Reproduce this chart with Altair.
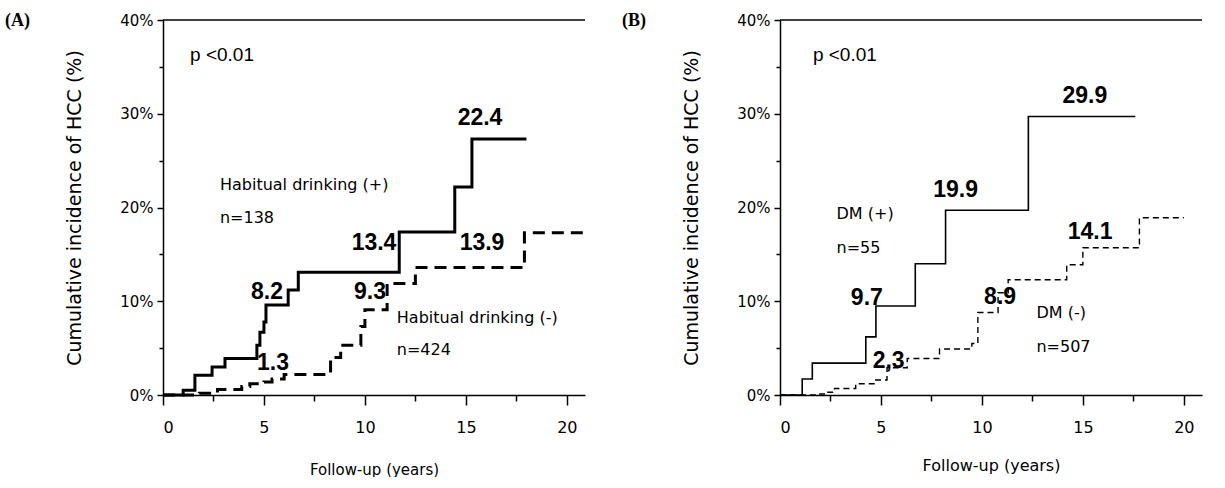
import altair as alt
import pandas as pd

# ---------------- data ----------------
# Panel A: Habitual drinking (+) solid, (-) dashed
a_pos_t = [0, 1.0, 1.58, 2.43, 3.07, 4.65, 4.8, 5.0, 5.1, 6.2, 6.7, 11.7, 14.45, 15.3, 18.0]
a_pos_v = [0, 0.5, 2.1, 3.0, 3.9, 5.3, 6.7, 7.8, 9.6, 11.2, 13.1, 17.4, 22.2, 27.3, 27.3]
a_neg_t = [0, 1.8, 2.7, 3.9, 4.3, 5.0, 5.4, 6.0, 8.3, 8.8, 9.8, 10.0, 11.1, 12.5, 17.9, 20.9]
a_neg_v = [0, 0.2, 0.6, 0.9, 1.2, 1.4, 1.7, 2.2, 4.0, 5.3, 7.3, 9.1, 11.9, 13.6, 17.3, 17.3]

# Panel B: DM (+) solid, DM (-) dashed
b_pos_t = [0, 1.1, 1.6, 4.25, 4.75, 6.7, 8.2, 12.3, 17.6]
b_pos_v = [0, 1.7, 3.4, 6.2, 9.5, 14.0, 19.7, 29.7, 29.7]
b_neg_t = [0, 1.8, 2.3, 2.7, 3.75, 4.7, 5.3, 6.3, 7.9, 9.5, 9.8, 10.8, 11.3, 14.2, 15.0, 17.8, 20.0]
b_neg_v = [0, 0.1, 0.3, 0.7, 1.2, 1.6, 2.9, 3.9, 4.9, 5.5, 8.8, 10.9, 12.3, 13.9, 15.7, 18.9, 18.9]

# annotations (text, x in years, y in %)
a_num_text = ["22.4", "13.4", "13.9", "8.2", "9.3", "1.3"]
a_num_x = [15.7, 10.45, 15.8, 5.15, 10.25, 5.45]
a_num_y = [29.6, 16.2, 16.2, 11.0, 11.0, 3.4]
a_lab_text = ["Habitual drinking (+)", "n=138", "Habitual drinking (-)", "n=424"]
a_lab_x = [2.82, 2.82, 11.58, 11.58]
a_lab_y = [22.4, 18.9, 8.2, 4.8]

b_num_text = ["29.9", "19.9", "14.1", "9.7", "8.9", "2,3"]
b_num_x = [15.1, 8.7, 15.36, 4.3, 10.9, 5.38]
b_num_y = [31.9, 21.9, 17.4, 10.4, 10.5, 3.6]
b_lab_text = ["DM (+)", "n=55", "DM (-)", "n=507"]
b_lab_x = [2.8, 2.8, 12.7, 12.7]
b_lab_y = [19.3, 15.7, 8.7, 5.1]

p_text = "p <0.01"
x_ticks = [0, 2.5, 5, 7.5, 10, 12.5, 15, 17.5, 20]
y_ticks = [0, 5, 10, 15, 20, 25, 30, 35, 40]

W, H = 422, 375
XDOM = [0, 20.9]
YDOM = [0, 40]
FONT = "DejaVu Sans"


def panel(pos_t, pos_v, neg_t, neg_v, num_text, num_x, num_y,
          lab_text, lab_x, lab_y, p_x, tag, lw_solid, lw_dash, dash, xt_size, xt_pad):
    xs = alt.Scale(domain=XDOM, nice=False, zero=False)
    ys = alt.Scale(domain=YDOM, nice=False)
    xaxis = alt.Axis(values=x_ticks, title="Follow-up (years)",
                     labelExpr="datum.value % 5 === 0 ? datum.label : ''",
                     tickSize={"condition": {"test": "datum.value % 5 === 0", "value": 10}, "value": 6},
                     labelPadding=14, titlePadding=xt_pad, grid=False,
                     labelFont=FONT, titleFont=FONT, labelFontSize=16, titleFontSize=xt_size,
                     titleFontWeight="normal", labelColor="black", titleColor="black",
                     domainColor="black", tickColor="black", domainWidth=1.5, tickWidth=1.5)
    yaxis = alt.Axis(values=y_ticks, title="Cumulative incidence of HCC (%)",
                     labelExpr="datum.value % 10 === 0 ? datum.value + '%' : ''",
                     tickSize={"condition": {"test": "datum.value % 10 === 0", "value": 6}, "value": 4},
                     labelPadding=4, titlePadding=35, grid=False,
                     labelFont=FONT, titleFont=FONT, labelFontSize=15, titleFontSize=19,
                     titleFontWeight="normal", labelColor="black", titleColor="black",
                     domainColor="black", tickColor="black", domainWidth=1.5, tickWidth=1.5)

    df_pos = pd.DataFrame({"t": pos_t, "v": pos_v})
    df_neg = pd.DataFrame({"t": neg_t, "v": neg_v})
    solid = alt.Chart(df_pos).mark_line(interpolate="step-after", color="black",
                                        strokeWidth=lw_solid).encode(
        x=alt.X("t:Q", scale=xs, axis=xaxis),
        y=alt.Y("v:Q", scale=ys, axis=yaxis))
    dashed = alt.Chart(df_neg).mark_line(interpolate="step-after", color="black",
                                         strokeWidth=lw_dash, strokeDash=dash).encode(
        x=alt.X("t:Q", scale=xs), y=alt.Y("v:Q", scale=ys))

    df_num = pd.DataFrame({"txt": num_text, "x": num_x, "y": num_y})
    nums = alt.Chart(df_num).mark_text(font="Liberation Sans", fontWeight="bold",
                                       fontSize=23, color="black").encode(
        x=alt.X("x:Q", scale=xs), y=alt.Y("y:Q", scale=ys), text="txt:N")
    df_lab = pd.DataFrame({"txt": lab_text, "x": lab_x, "y": lab_y})
    labs = alt.Chart(df_lab).mark_text(font=FONT, fontSize=16, align="left",
                                       color="black").encode(
        x=alt.X("x:Q", scale=xs), y=alt.Y("y:Q", scale=ys), text="txt:N")
    df_p = pd.DataFrame({"txt": [p_text], "x": [p_x], "y": [36.3]})
    ptxt = alt.Chart(df_p).mark_text(font="Liberation Sans", fontSize=19, align="left",
                                     color="black").encode(
        x=alt.X("x:Q", scale=xs), y=alt.Y("y:Q", scale=ys), text="txt:N")
    top = alt.Chart(df_p).mark_rule(color="black", strokeWidth=1.5).encode(
        x=alt.value(0), x2=alt.value(W), y=alt.value(0))
    df_tag = pd.DataFrame({"txt": [tag]})
    tagm = alt.Chart(df_tag).mark_text(font="Liberation Serif", fontWeight="bold",
                                       fontSize=18, align="left", color="black").encode(
        x=alt.value(-158), y=alt.value(1), text="txt:N")

    return alt.layer(solid, dashed, nums, labs, ptxt, top, tagm).properties(width=W, height=H)


pa = panel(a_pos_t, a_pos_v, a_neg_t, a_neg_v, a_num_text, a_num_x, a_num_y,
           a_lab_text, a_lab_x, a_lab_y, 1.34, "(A)", 3, 3, [12, 7], 15, 27)
pb = panel(b_pos_t, b_pos_v, b_neg_t, b_neg_v, b_num_text, b_num_x, b_num_y,
           b_lab_text, b_lab_x, b_lab_y, 1.63, "(B)", 1.6, 1.4, [6, 4], 16, 22)

chart = alt.hconcat(pa, pb, spacing=31).properties(
    padding={"left": 5, "top": 12, "right": 0, "bottom": 0},
    background="white"
).configure_view(stroke=None)

chart.save("out.html", embed_options={"renderer": "svg", "actions": False})
